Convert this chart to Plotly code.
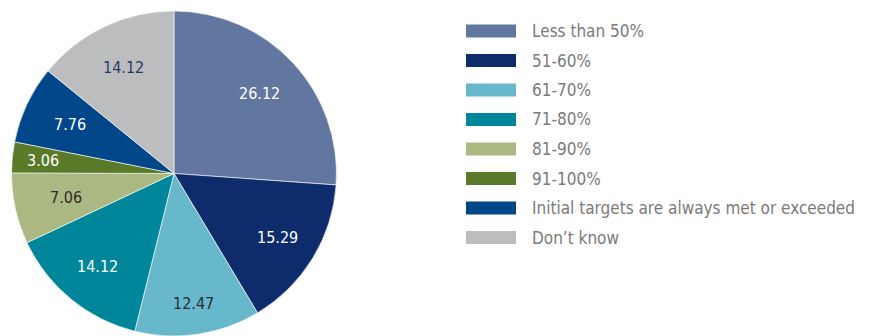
import math
import plotly.graph_objects as go

# Share of respondents by how often initial targets are met
categories = [
    "Less than 50%",
    "51-60%",
    "61-70%",
    "71-80%",
    "81-90%",
    "91-100%",
    "Initial targets are always met or exceeded",
    "Don\u2019t know",
]
values = [26.12, 15.29, 12.47, 14.12, 7.06, 3.06, 7.76, 14.12]

colors = ["#62779f", "#0e2b6b", "#67b8cb", "#00869a",
          "#abb881", "#5a7a2a", "#00478a", "#bcbdbf"]
label_colors = ["#ffffff", "#ffffff", "#2d2d2d", "#ffffff",
                "#2d2d2d", "#ffffff", "#ffffff", "#2a3a5e"]
# radial placement of each value label, as a fraction of the radius
label_radius = [0.72, 0.75, 0.81, 0.74, 0.68, 0.81, 0.71, 0.72]

W, H = 873, 336
FONT = "Liberation Sans Narrow, Arial Narrow, DejaVu Sans Condensed, sans-serif"

# pie geometry in pixels
px0, px1 = 11, 337
py_top = 11
dom_x = [px0 / W, px1 / W]
dom_y = [0, 1 - py_top / H]
cx = (px0 + px1) / 2
rad = min(px1 - px0, H - py_top) / 2
cy = py_top + rad

fig = go.Figure(
    go.Pie(
        labels=categories,
        values=values,
        sort=False,
        direction="clockwise",
        rotation=0,
        marker=dict(colors=colors, line=dict(color="#ffffff", width=0.6)),
        textinfo="none",
        domain=dict(x=dom_x, y=dom_y),
        showlegend=False,
        hoverinfo="label+value",
    )
)

annotations = []
shapes = []

# value labels inside the slices, placed at each slice's mid-angle
total = sum(values)
cum = 0.0
for v, fc, rf in zip(values, label_colors, label_radius):
    mid = (cum + v / 2) / total * 2 * math.pi
    cum += v
    x = cx + rf * rad * math.sin(mid)
    y = cy - rf * rad * math.cos(mid)
    annotations.append(dict(
        xref="paper", yref="paper", x=x / W, y=1 - y / H,
        xanchor="center", yanchor="middle", showarrow=False,
        text=f"{v:.2f}", font=dict(family=FONT, size=16, color=fc),
    ))

# Legend drawn as swatches and labels on the right
row0, step = 31, 29.5
for i, (name, col) in enumerate(zip(categories, colors)):
    yc = row0 + i * step
    shapes.append(dict(
        type="rect", xref="paper", yref="paper",
        x0=466 / W, x1=516 / W,
        y0=1 - (yc + 6.5) / H, y1=1 - (yc - 6.5) / H,
        fillcolor=col, line=dict(width=0),
    ))
    annotations.append(dict(
        xref="paper", yref="paper", x=530 / W, y=1 - yc / H,
        xanchor="left", yanchor="middle", showarrow=False,
        text=name, font=dict(family=FONT, size=17, color="#7a7a7a"),
    ))

fig.update_layout(
    width=W, height=H,
    margin=dict(l=0, r=0, t=0, b=0),
    paper_bgcolor="#ffffff",
    plot_bgcolor="#ffffff",
    shapes=shapes,
    annotations=annotations,
)

fig.write_html("out.html")
